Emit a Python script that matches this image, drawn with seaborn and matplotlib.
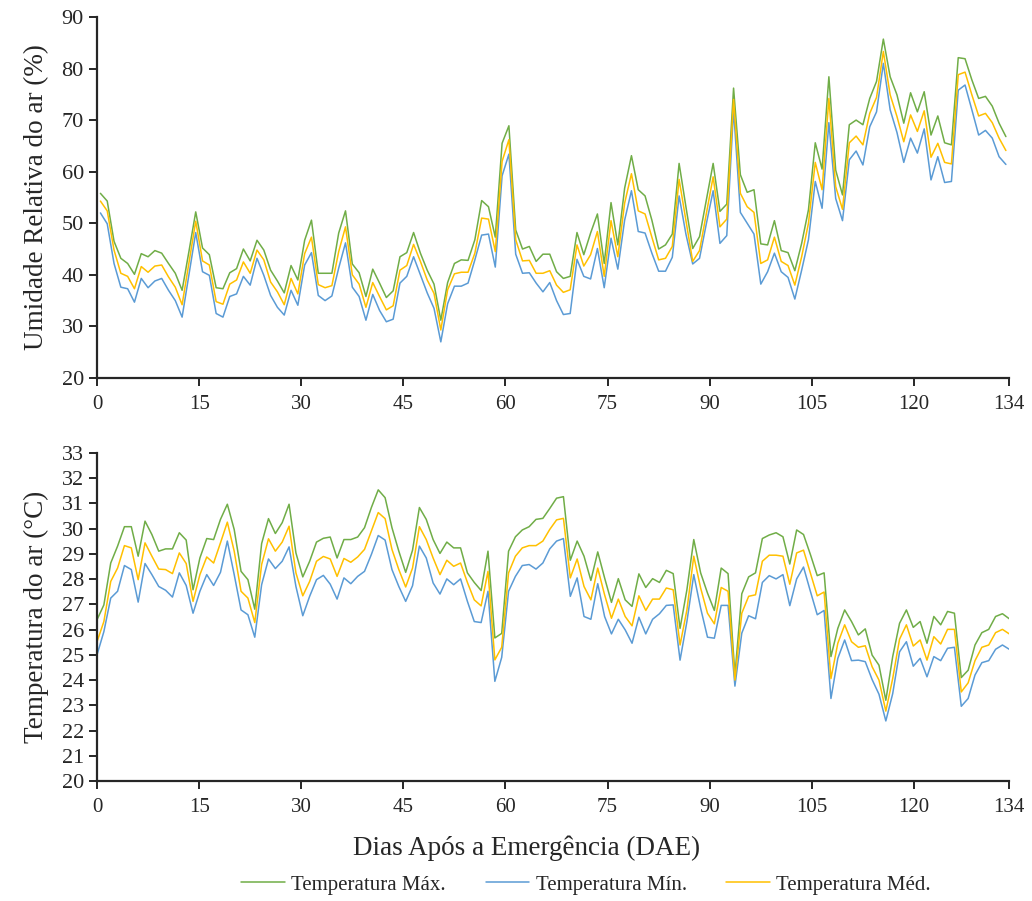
import matplotlib
matplotlib.use("Agg")
from matplotlib import pyplot as plt
import numpy as np
import pandas as pd
import seaborn as sns

# umidade relativa do ar (%), 134 dias
ur_max = [55.8, 54.3, 46.5, 43.2, 42.2, 40.1, 44.1, 43.5, 44.7, 44.2, 42.2, 40.3, 37.0, 44.5, 52.2,
          45.2, 43.9, 37.5, 37.3, 40.4, 41.2, 45.0, 42.7, 46.7, 44.8, 40.9, 38.8, 36.5, 41.8, 39.0,
          46.7, 50.6, 40.3, 40.3, 40.3, 48.1, 52.4, 42.1, 40.4, 35.8, 41.1, 38.4, 35.6, 36.9, 43.5,
          44.3, 48.2, 44.2, 40.9, 38.2, 31.2, 38.5, 42.2, 42.9, 42.8, 46.8, 54.4, 53.2, 47.3, 65.5,
          68.9, 48.7, 45.0, 45.5, 42.6, 44.0, 44.0, 40.6, 39.3, 39.7, 48.2, 43.9, 48.1, 51.8, 42.2,
          54.0, 45.8, 56.8, 63.1, 56.5, 55.3, 50.6, 45.0, 45.8, 47.9, 61.6, 53.2, 45.1, 47.4, 54.5,
          61.6, 52.3, 53.7, 76.2, 59.4, 56.0, 56.5, 46.0, 45.8, 50.5, 44.7, 44.3, 40.8, 46.1, 52.6,
          65.6, 60.5, 78.4, 60.3, 55.5, 69.1, 70.0, 69.1, 74.2, 77.5, 85.7, 78.4, 74.9, 69.4, 75.3,
          71.6, 75.5, 67.1, 70.8, 65.6, 65.2, 82.1, 81.9, 77.8, 74.2, 74.6, 72.7, 69.4, 66.8]
ur_min = [52.0, 49.9, 42.2, 37.6, 37.3, 34.7, 39.3, 37.5, 38.8, 39.3, 37.0, 35.0, 31.8, 40.0, 48.2,
          40.6, 39.9, 32.5, 31.8, 35.8, 36.3, 39.7, 38.0, 43.2, 39.9, 36.0, 33.7, 32.2, 37.0, 34.1,
          41.9, 44.3, 36.0, 35.0, 35.9, 41.3, 46.2, 37.6, 35.8, 31.2, 36.2, 33.1, 30.9, 31.4, 38.4,
          39.7, 43.5, 40.0, 36.5, 33.5, 27.0, 34.4, 37.8, 37.8, 38.4, 42.9, 47.7, 47.9, 41.5, 59.2,
          63.4, 44.0, 40.3, 40.4, 38.4, 36.7, 38.5, 35.0, 32.3, 32.5, 43.0, 39.7, 39.2, 45.1, 37.5,
          47.1, 41.1, 50.6, 56.3, 48.4, 48.1, 44.2, 40.7, 40.7, 43.4, 55.3, 47.9, 42.1, 43.2, 49.9,
          56.3, 46.1, 47.6, 72.1, 52.1, 50.0, 47.9, 38.2, 40.6, 44.2, 40.6, 39.5, 35.3, 40.9, 46.8,
          58.1, 52.9, 69.5, 54.8, 50.5, 62.3, 64.0, 61.3, 68.7, 71.6, 81.0, 72.0, 67.6, 61.8, 66.5,
          63.6, 68.3, 58.4, 62.9, 57.9, 58.1, 75.8, 76.8, 72.0, 67.1, 68.0, 66.5, 62.9, 61.4]
ur_med = [54.3, 52.4, 44.8, 40.3, 39.7, 37.3, 41.6, 40.5, 41.7, 41.9, 39.6, 37.6, 34.2, 42.3, 50.4,
          42.7, 41.9, 34.8, 34.3, 38.2, 39.0, 42.5, 40.3, 44.8, 42.9, 38.6, 36.7, 34.2, 39.3, 36.3,
          44.1, 47.3, 38.1, 37.5, 37.9, 44.5, 49.3, 40.0, 38.2, 33.7, 38.5, 35.8, 33.2, 34.0, 40.9,
          41.8, 45.9, 42.6, 39.0, 36.4, 29.3, 37.1, 40.2, 40.5, 40.5, 44.2, 51.0, 50.8, 44.5, 62.0,
          66.2, 46.8, 42.7, 42.8, 40.3, 40.3, 40.8, 38.0, 36.6, 37.1, 45.8, 41.7, 43.9, 48.4, 39.7,
          50.5, 43.5, 53.9, 59.6, 52.4, 51.8, 47.3, 42.9, 43.2, 45.5, 58.5, 50.6, 42.6, 44.7, 51.8,
          59.0, 49.3, 50.8, 74.0, 55.8, 53.2, 52.1, 42.2, 42.9, 47.3, 42.6, 41.8, 38.0, 43.5, 50.0,
          61.8, 56.5, 74.2, 57.1, 52.7, 65.6, 66.9, 65.2, 71.3, 74.4, 83.3, 74.9, 70.7, 65.8, 71.0,
          67.8, 71.8, 62.8, 65.5, 61.8, 61.5, 78.8, 79.3, 74.9, 70.8, 71.3, 69.5, 66.5, 64.1]

# temperatura do ar (C), 134 dias
t_max = [26.39, 26.98, 28.64, 29.31, 30.08, 30.08, 28.91, 30.30, 29.77, 29.11, 29.20, 29.20, 29.84, 29.55, 27.58,
         28.84, 29.61, 29.57, 30.37, 30.97, 29.97, 28.31, 27.98, 26.81, 29.41, 30.40, 29.81, 30.24, 30.97, 29.04,
         28.09, 28.71, 29.47, 29.62, 29.67, 28.84, 29.57, 29.57, 29.67, 30.04, 30.84, 31.54, 31.23, 30.04, 29.11,
         28.27, 29.15, 30.84, 30.37, 29.57, 29.02, 29.47, 29.24, 29.24, 28.25, 27.87, 27.55, 29.11, 25.67, 25.85,
         29.11, 29.68, 29.95, 30.08, 30.37, 30.41, 30.80, 31.21, 31.27, 28.75, 29.51, 28.91, 27.95, 29.08, 28.05,
         27.08, 28.02, 27.18, 26.92, 28.21, 27.67, 28.02, 27.87, 28.35, 28.22, 26.05, 27.58, 29.57, 28.25, 27.45,
         26.76, 28.44, 28.22, 24.20, 27.42, 28.09, 28.25, 29.61, 29.75, 29.84, 29.68, 28.60, 29.95, 29.77, 28.98,
         28.14, 28.25, 24.93, 26.05, 26.78, 26.32, 25.79, 26.03, 24.99, 24.59, 23.20, 24.93, 26.25, 26.78, 26.09,
         26.32, 25.46, 26.52, 26.19, 26.72, 26.65, 24.10, 24.39, 25.39, 25.88, 26.01, 26.52, 26.63, 26.43]
t_min = [25.00, 25.92, 27.25, 27.52, 28.54, 28.38, 27.09, 28.62, 28.18, 27.71, 27.56, 27.29, 28.25, 27.75, 26.65,
         27.52, 28.18, 27.75, 28.27, 29.51, 28.18, 26.78, 26.59, 25.70, 27.78, 28.80, 28.42, 28.71, 29.28, 27.71,
         26.55, 27.32, 27.98, 28.15, 27.80, 27.21, 28.05, 27.82, 28.11, 28.31, 28.98, 29.73, 29.55, 28.38, 27.71,
         27.12, 27.74, 29.31, 28.84, 27.85, 27.41, 28.01, 27.78, 28.01, 27.12, 26.32, 26.28, 27.52, 23.95, 24.90,
         27.52, 28.11, 28.54, 28.58, 28.40, 28.64, 29.20, 29.51, 29.61, 27.32, 28.05, 26.52, 26.41, 27.82, 26.52,
         25.83, 26.41, 25.99, 25.46, 26.49, 25.83, 26.41, 26.63, 26.96, 26.98, 24.79, 26.32, 28.18, 26.85, 25.70,
         25.66, 26.96, 26.96, 23.76, 25.86, 26.55, 26.43, 27.87, 28.14, 28.01, 28.18, 26.95, 28.01, 28.48, 27.52,
         26.59, 26.76, 23.27, 24.86, 25.59, 24.77, 24.79, 24.73, 24.02, 23.44, 22.38, 23.46, 25.12, 25.52, 24.55,
         24.86, 24.13, 24.93, 24.77, 25.26, 25.30, 22.96, 23.27, 24.20, 24.69, 24.77, 25.22, 25.39, 25.22]
t_med = [25.52, 26.32, 27.91, 28.44, 29.33, 29.24, 27.98, 29.44, 28.91, 28.40, 28.38, 28.22, 29.04, 28.62, 27.12,
         28.18, 28.88, 28.64, 29.44, 30.26, 29.11, 27.52, 27.25, 26.28, 28.58, 29.60, 29.11, 29.47, 30.10, 28.25,
         27.34, 27.91, 28.71, 28.90, 28.80, 28.11, 28.82, 28.67, 28.88, 29.18, 29.91, 30.64, 30.40, 29.18, 28.38,
         27.69, 28.44, 30.08, 29.57, 28.84, 28.18, 28.75, 28.51, 28.64, 27.87, 27.18, 26.94, 28.31, 24.80, 25.30,
         28.25, 28.91, 29.24, 29.33, 29.33, 29.51, 29.97, 30.35, 30.41, 28.05, 28.80, 27.71, 27.18, 28.44, 27.38,
         26.45, 27.21, 26.52, 26.15, 27.34, 26.76, 27.21, 27.21, 27.65, 27.58, 25.39, 26.78, 28.91, 27.65, 26.65,
         26.23, 27.67, 27.52, 24.00, 26.65, 27.32, 27.38, 28.71, 28.95, 28.95, 28.91, 27.80, 29.04, 29.15, 28.25,
         27.34, 27.49, 24.06, 25.46, 26.19, 25.52, 25.30, 25.36, 24.53, 24.00, 22.77, 24.06, 25.62, 26.19, 25.35,
         25.59, 24.79, 25.72, 25.43, 26.01, 26.01, 23.53, 23.89, 24.77, 25.30, 25.39, 25.88, 26.01, 25.83]

tick_days = [0, 15, 30, 45, 60, 75, 90, 105, 120, 134]
series_names = ["Temperatura Máx.", "Temperatura Mín.", "Temperatura Méd."]
palette = {"Temperatura Máx.": "#70AD47", "Temperatura Mín.": "#5B9BD5", "Temperatura Méd.": "#FFC000"}

n = len(ur_max)
# painel de cima: pontos no meio de cada categoria; painel de baixo: de ponta a ponta
x_top = np.arange(n) + 0.5
x_bot = np.linspace(0, 134, n)

ur = pd.DataFrame({
    "dia": np.concatenate([x_top] * 3),
    "valor": ur_max + ur_min + ur_med,
    "serie": np.repeat(series_names, n),
})
temp = pd.DataFrame({
    "dia": np.concatenate([x_bot] * 3),
    "valor": t_max + t_min + t_med,
    "serie": np.repeat(series_names, n),
})

sns.set_style("ticks")
plt.rcParams['font.family'] = ['Liberation Serif', 'DejaVu Serif']

fig = plt.figure(figsize=(10.32, 9.01), dpi=100)
ax1 = fig.add_axes([0.094, 0.5805, 0.884, 0.4007])
ax2 = fig.add_axes([0.094, 0.1332, 0.884, 0.3640])

sns.lineplot(data=ur, x="dia", y="valor", hue="serie", palette=palette,
             linewidth=1.1, ax=ax1, legend=False)
sns.lineplot(data=temp, x="dia", y="valor", hue="serie", palette=palette,
             linewidth=1.1, ax=ax2, legend=True)

ax1.set_ylim(20, 90)
ax1.set_yticks(range(20, 91, 10))
ax1.set_ylabel("Umidade Relativa do ar (%)", fontsize=19.5, labelpad=9)

ax2.set_ylim(20, 33)
ax2.set_yticks(range(20, 34))
ax2.set_ylabel("Temperatura do ar (°C)", fontsize=19.5, labelpad=9)

for ax in (ax1, ax2):
    ax.set_xlim(0, 134)
    ax.set_xticks(tick_days)
    ax.set_xlabel("")
    sns.despine(ax=ax)
    ax.spines['left'].set_linewidth(1.6)
    ax.spines['bottom'].set_linewidth(1.6)
    ax.tick_params(axis='both', direction='out', length=6, width=1.4)
    ax.tick_params(axis='y', labelsize=16)
    ax.tick_params(axis='x', labelsize=15, pad=6)

fig.text(0.51, 0.059, "Dias Após a Emergência (DAE)", ha="center", va="center", fontsize=19.5)

handles, labels = ax2.get_legend_handles_labels()
ax2.get_legend().remove()
fig.legend(handles, labels, loc="center", bbox_to_anchor=(0.568, 0.018), ncol=3,
           frameon=False, fontsize=15, handlelength=2.1, columnspacing=1.9, handletextpad=0.3)

fig.savefig("out.png", dpi=100)
